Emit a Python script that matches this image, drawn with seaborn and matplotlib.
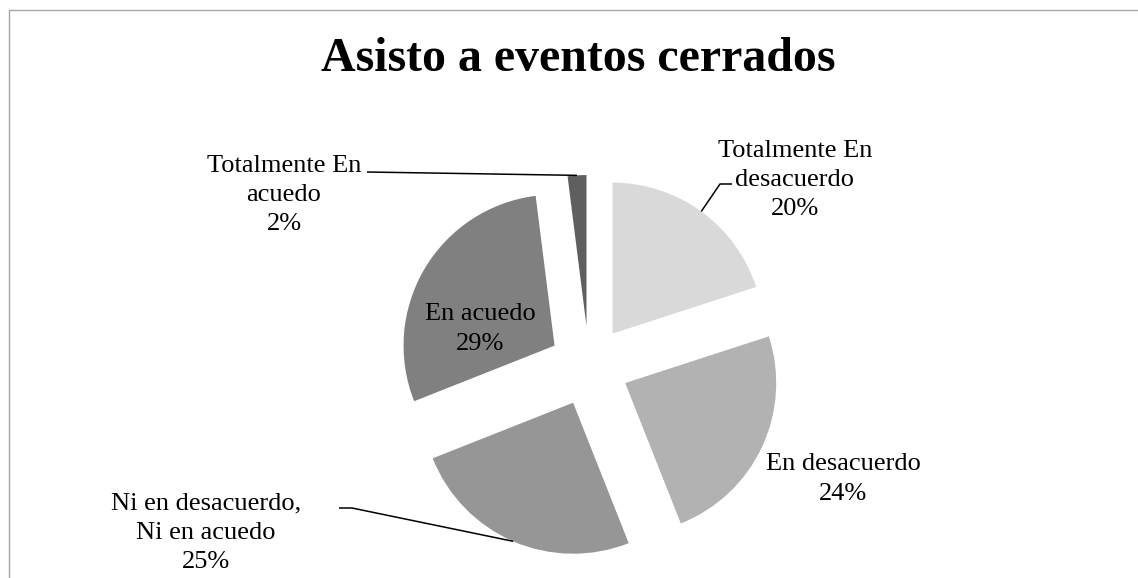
import numpy as np
import matplotlib
matplotlib.use("Agg")
import matplotlib.pyplot as plt
from matplotlib.lines import Line2D
import seaborn as sns

# Survey answers for "Asisto a eventos cerrados"
categories = ["Totalmente En\ndesacuerdo", "En desacuerdo",
              "Ni en desacuerdo,\nNi en acuedo", "En acuedo",
              "Totalmente En\nacuedo"]
percentages = [20, 24, 25, 29, 2]
title = "Asisto a eventos cerrados"

sns.set_style("white")
plt.rcParams["font.family"] = ["Liberation Serif", "DejaVu Serif"]

W, H = 1138, 578
fig = plt.figure(figsize=(W / 100, H / 100), dpi=100)
ax = fig.add_axes([0, 0, 1, 1])

colors = ["#d9d9d9", "#b2b2b2", "#969696", "#808080", "#5f5f5f"]
wedges, _ = ax.pie(percentages, colors=colors, startangle=90,
                   counterclock=False, explode=[0.265] * 5,
                   radius=1.0, wedgeprops=dict(linewidth=0))

# pixel layout -> data units (pie centre at (589, 366), radius 151 px)
CX, CY, R = 589.0, 366.0, 151.0
ax.set_xlim((0 - CX) / R, (W - CX) / R)
ax.set_ylim((CY - H) / R, (CY - 0) / R)
ax.set_axis_off()


def P(px, py):
    return (px - CX) / R, (CY - py) / R


def arc_mid(w):
    ang = np.deg2rad((w.theta1 + w.theta2) / 2)
    cx, cy = w.center
    return cx + w.r * np.cos(ang), cy + w.r * np.sin(ang)


labels = [f"{c}\n{p}%" for c, p in zip(categories, percentages)]
label_px = [(795, 180), (843, 479), (206, 533), (480, 329), (284, 195)]
fs = 19
for txt, (lx, ly) in zip(labels, label_px):
    x, y = P(lx, ly)
    ax.text(x, y, txt, ha="center", va="center", multialignment="center",
            fontsize=fs, color="black", linespacing=1.42)

# leader lines: (start, elbow) in pixels, ending at the wedge arc midpoint
leaders = {0: [(732, 184), (720, 184)],
           2: [(339, 508), (352, 508)],
           4: [(367, 172), (367, 172)]}
for i, pts in leaders.items():
    xs = [P(*p)[0] for p in pts]
    ys = [P(*p)[1] for p in pts]
    mx, my = arc_mid(wedges[i])
    xs.append(mx)
    ys.append(my)
    ax.plot(xs, ys, color="black", linewidth=1.1, solid_capstyle="butt")

tx, ty = P(578, 59)
ax.text(tx, ty, title, ha="center", va="center", fontsize=34.5,
        fontweight="bold", color="black")

# chart area frame (top and left edges)
fig.add_artist(Line2D([8.5 / W, 1], [1 - 9.5 / H, 1 - 9.5 / H],
                      color="#a6a6a6", linewidth=1.0))
fig.add_artist(Line2D([8.5 / W, 8.5 / W], [0, 1 - 9.5 / H],
                      color="#a6a6a6", linewidth=1.0))

fig.savefig("out.png", dpi=100, facecolor="white")
